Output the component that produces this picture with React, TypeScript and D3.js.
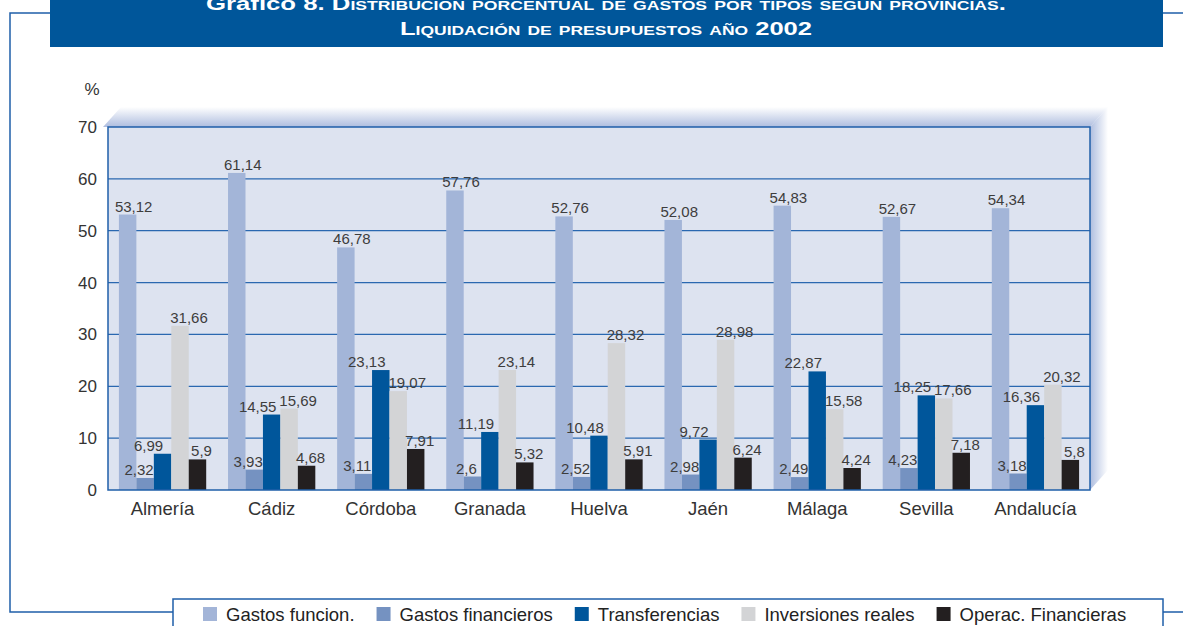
import React, { useRef, useEffect } from "react";
import * as d3 from "d3";

const categories = ["Almería", "Cádiz", "Córdoba", "Granada", "Huelva", "Jaén", "Málaga", "Sevilla", "Andalucía"];
const seriesNames = ["Gastos funcion.", "Gastos financieros", "Transferencias", "Inversiones reales", "Operac. Financieras"];
const gastosFuncion = [53.12, 61.14, 46.78, 57.76, 52.76, 52.08, 54.83, 52.67, 54.34];
const gastosFinancieros = [2.32, 3.93, 3.11, 2.6, 2.52, 2.98, 2.49, 4.23, 3.18];
const transferencias = [6.99, 14.55, 23.13, 11.19, 10.48, 9.72, 22.87, 18.25, 16.36];
const inversionesReales = [31.66, 15.69, 19.07, 23.14, 28.32, 28.98, 15.58, 17.66, 20.32];
const operacFinancieras = [5.9, 4.68, 7.91, 5.32, 5.91, 6.24, 4.24, 7.18, 5.8];
const yTicks = [0, 10, 20, 30, 40, 50, 60, 70];

const seriesValues = [gastosFuncion, gastosFinancieros, transferencias, inversionesReales, operacFinancieras];
const colors = ["#a3b5d8", "#7592c1", "#00569b", "#d3d4d6", "#231f20"];
// label nudges per series so the numbers don't sit on top of each other
const labelDx = [6, -6, -14, 9, 4];

const W = 1183;
const H = 626;
const BLUE = "#1f5fa9";
const FONT = "'Liberation Sans', Arial, Helvetica, sans-serif";

export default function App() {
  const svgRef = useRef<SVGSVGElement>(null);

  useEffect(() => {
    const svg = d3.select(svgRef.current);
    svg.selectAll("*").remove();

    const left = 108, right = 1090, top = 127, bottom = 490;
    const depthX = 18, depthY = 20;

    const x0 = d3.scaleBand<string>().domain(categories).range([left, right]).paddingInner(0.2).paddingOuter(0.1);
    const x1 = d3.scaleBand<string>().domain(seriesNames).range([0, x0.bandwidth()]);
    const y = d3.scaleLinear().domain([0, 70]).range([bottom, top]);

    const defs = svg.append("defs");
    const gTop = defs.append("linearGradient").attr("id", "gTop").attr("x1", 0).attr("y1", 1).attr("x2", 0).attr("y2", 0);
    gTop.append("stop").attr("offset", 0).attr("stop-color", "#aebddf");
    gTop.append("stop").attr("offset", 1).attr("stop-color", "#ffffff");
    const gRight = defs.append("linearGradient").attr("id", "gRight").attr("x1", 0).attr("y1", 0).attr("x2", 1).attr("y2", 0);
    gRight.append("stop").attr("offset", 0).attr("stop-color", "#aebddf");
    gRight.append("stop").attr("offset", 1).attr("stop-color", "#ffffff");

    // outer frame
    svg.append("path")
      .attr("d", `M50,13 H10 V612 H173 M1163,13 H1183 M1163,612 H1183`)
      .attr("fill", "none").attr("stroke", BLUE).attr("stroke-width", 1.5);

    // title box
    svg.append("rect").attr("x", 50).attr("y", 0).attr("width", 1113).attr("height", 47).attr("fill", "#00569a");
    const title = svg.append("g").attr("fill", "#fff").attr("font-family", "'Liberation Sans Narrow', 'Liberation Sans', Arial, sans-serif")
      .attr("font-weight", "bold").attr("text-anchor", "middle");
    const t1 = title.append("text").attr("x", 606).attr("y", 10).attr("font-size", 19)
      .attr("textLength", 800).attr("lengthAdjust", "spacingAndGlyphs");
    t1.append("tspan").text("Gráfico 8. ");
    t1.append("tspan").style("font-variant", "small-caps")
      .text("Distribución porcentual de gastos por tipos según provincias.");
    title.append("text").attr("x", 606).attr("y", 35).attr("font-size", 19)
      .style("font-variant", "small-caps")
      .attr("textLength", 412).attr("lengthAdjust", "spacingAndGlyphs")
      .text("Liquidación de presupuestos año 2002");

    // 3d walls
    svg.append("polygon")
      .attr("points", `${left - 5},${top} ${left - 5 + depthX},${top - depthY} ${right + depthX},${top - depthY} ${right},${top}`)
      .attr("fill", "url(#gTop)");
    svg.append("polygon")
      .attr("points", `${right},${top} ${right + depthX},${top - depthY} ${right + depthX},${bottom - depthY} ${right},${bottom}`)
      .attr("fill", "url(#gRight)");

    svg.append("rect").attr("x", left).attr("y", top).attr("width", right - left).attr("height", bottom - top).attr("fill", "#dde3f0");

    // grid
    svg.append("g").selectAll("line").data(yTicks.filter(t => t > 0 && t < 70)).join("line")
      .attr("x1", left).attr("x2", right).attr("y1", d => y(d)).attr("y2", d => y(d))
      .attr("stroke", "#2a68b0").attr("stroke-width", 1.3);

    // bars
    const groups = svg.append("g").selectAll("g").data(categories).join("g")
      .attr("transform", d => `translate(${x0(d)},0)`);

    groups.selectAll("rect")
      .data((c, ci) => seriesNames.map((s, si) => ({ s, si, v: seriesValues[si][ci] })))
      .join("rect")
      .attr("x", d => x1(d.s)!)
      .attr("y", d => y(d.v))
      .attr("width", x1.bandwidth())
      .attr("height", d => bottom - y(d.v))
      .attr("fill", d => colors[d.si]);

    groups.selectAll("text")
      .data((c, ci) => seriesNames.map((s, si) => ({ s, si, v: seriesValues[si][ci] })))
      .join("text")
      .attr("x", d => x1(d.s)! + x1.bandwidth() / 2 + labelDx[d.si])
      .attr("y", d => y(d.v) - 3)
      .attr("text-anchor", "middle")
      .attr("font-family", FONT)
      .attr("font-size", 15)
      .attr("fill", "#3d3d3d")
      .text(d => String(d.v).replace(".", ","));

    // plot border
    svg.append("rect").attr("x", left).attr("y", top).attr("width", right - left).attr("height", bottom - top)
      .attr("fill", "none").attr("stroke", BLUE).attr("stroke-width", 1.5);

    // y axis labels
    svg.append("g").selectAll("text").data(yTicks).join("text")
      .attr("x", 97).attr("y", d => y(d) + 6)
      .attr("text-anchor", "end").attr("font-family", FONT).attr("font-size", 17).attr("fill", "#333")
      .text(d => d);
    svg.append("text").attr("x", 92).attr("y", 95).attr("text-anchor", "middle")
      .attr("font-family", FONT).attr("font-size", 17).attr("fill", "#333").text("%");

    // category labels
    svg.append("g").selectAll("text").data(categories).join("text")
      .attr("x", d => x0(d)! + x0.bandwidth() / 2).attr("y", 515)
      .attr("text-anchor", "middle").attr("font-family", FONT).attr("font-size", 18.5).attr("fill", "#333")
      .text(d => d);

    // legend
    svg.append("rect").attr("x", 173).attr("y", 599).attr("width", 990).attr("height", 40)
      .attr("fill", "#fff").attr("stroke", BLUE).attr("stroke-width", 1.5);
    let lx = 203;
    seriesNames.forEach((name, i) => {
      svg.append("rect").attr("x", lx).attr("y", 607).attr("width", 14).attr("height", 14).attr("fill", colors[i]);
      const t = svg.append("text").attr("x", lx + 23).attr("y", 621)
        .attr("font-family", FONT).attr("font-size", 18.5).attr("fill", "#222").text(name);
      const w = (t.node() as SVGTextElement).getComputedTextLength();
      lx += 23 + w + 22;
    });
  }, []);

  return (
    <div style={{ position: "absolute", left: 0, top: 0 }}>
      <svg ref={svgRef} width={W} height={H} style={{ display: "block", background: "#fff" }} />
    </div>
  );
}
